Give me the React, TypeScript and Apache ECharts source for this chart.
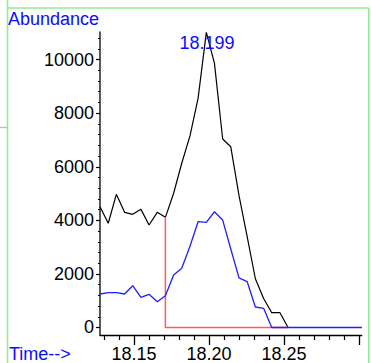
import React, { useEffect, useRef } from "react";
import * as echarts from "echarts";

// Retention times (min)
const times = [
  18.1273, 18.1328, 18.1382, 18.1437, 18.1491, 18.1546, 18.16, 18.1655, 18.1709, 18.1764,
  18.1818, 18.1873, 18.1927, 18.1982, 18.2036, 18.2091, 18.2145, 18.22, 18.2254, 18.2309,
  18.2364, 18.2418, 18.2473, 18.2527, 18.2582, 18.2636, 18.2691, 18.2745, 18.28, 18.2854,
  18.2909, 18.2963, 18.3018,
];
// Total ion abundance (black)
const totalAbundance = [
  4507, 3890, 4970, 4300, 4225, 4410, 3825, 4300, 4112, 5010,
  6130, 7150, 8550, 11015, 9870, 7035, 6745, 4920, 3400, 1820,
  1080, 552, 552, 0, 0, 0, 0, 0, 0, 0,
  0, 0, 0,
];
// Extracted ion abundance (blue)
const ionAbundance = [
  1250, 1300, 1300, 1250, 1560, 1127, 1240, 963, 1187, 1960,
  2210, 3030, 3950, 3925, 4320, 4010, 2930, 1850, 1715, 765,
  715, 0, 0, 0, 0, 0, 0, 0, 0, 0,
  0, 0, 0,
];
// Integration baseline (red)
const baselineTimes = [18.1709, 18.1709, 18.2527];
const baselineValues = [4112, 0, 0];

const yMajorTicks = [0, 2000, 4000, 6000, 8000, 10000];
const yMinorTicks = [
  400, 800, 1200, 1600, 2400, 2800, 3200, 3600, 4400, 4800, 5200, 5600,
  6400, 6800, 7200, 7600, 8400, 8800, 9200, 9600, 10400, 10800,
];
const xMajorTicks = [18.15, 18.2, 18.25, 18.3];
const xTickLabels = [18.15, 18.2, 18.25];
const xMinorTicks = [
  18.13, 18.14, 18.16, 18.17, 18.18, 18.19, 18.21, 18.22, 18.23, 18.24,
  18.26, 18.27, 18.28, 18.29,
];
const peakLabel = "18.199";
const yTitle = "Abundance";
const xTitle = "Time-->";

const FONT = '"Liberation Sans", Arial, sans-serif';
const BLUE = "#0d0dff";
const GREEN = "#8fef8f";

export default function App() {
  const ref = useRef<HTMLDivElement>(null);
  useEffect(() => {
    if (!ref.current) return;
    const chart = echarts.init(ref.current, undefined, { renderer: "svg" });
    const xMin = times[0];
    const xMax = times[times.length - 1];
    const yMin = -280;
    const yMax = 11030;
    const axisLine = { show: true, lineStyle: { color: "#000", width: 1.3 } };
    chart.setOption({
      animation: false,
      backgroundColor: "#fff",
      grid: { left: 100, right: 9.3, top: 32, bottom: 28, containLabel: false, outerBoundsMode: "none" },
      xAxis: [
        {
          type: "value",
          position: "bottom",
          min: xMin,
          max: xMax,
          axisLine: { ...axisLine, onZero: false },
          axisTick: { show: true, customValues: xMajorTicks, length: 10, lineStyle: { color: "#000", width: 1.3 } },
          axisLabel: {
            show: true,
            customValues: xTickLabels,
            formatter: (v: number) => v.toFixed(2),
            margin: 10,
            color: "#000",
            fontSize: 18,
            fontFamily: FONT,
          },
          splitLine: { show: false },
        },
        {
          type: "value",
          position: "bottom",
          min: xMin,
          max: xMax,
          axisLine: { show: false, onZero: false },
          axisTick: { show: true, customValues: xMinorTicks, length: 5, lineStyle: { color: "#000", width: 1.2 } },
          axisLabel: { show: false },
          splitLine: { show: false },
        },
      ],
      yAxis: [
        {
          type: "value",
          position: "left",
          min: yMin,
          max: yMax,
          axisLine: { ...axisLine, onZero: false, lineStyle: { color: "#222", width: 1.5 } },
          axisTick: { show: true, customValues: yMajorTicks, length: 4, lineStyle: { color: "#000", width: 1.2 } },
          axisLabel: {
            show: true,
            customValues: yMajorTicks,
            formatter: (v: number) => String(Math.round(v)),
            margin: 6,
            color: "#000",
            fontSize: 18,
            fontFamily: FONT,
          },
          splitLine: { show: false },
        },
        {
          type: "value",
          position: "left",
          min: yMin,
          max: yMax,
          axisLine: { show: false, onZero: false },
          axisTick: { show: true, customValues: yMinorTicks, length: 2, lineStyle: { color: "#000", width: 1 } },
          axisLabel: { show: false },
          splitLine: { show: false },
        },
      ],
      series: [
        {
          type: "line",
          xAxisIndex: 0,
          yAxisIndex: 0,
          data: times.map((t, i) => [t, totalAbundance[i]]),
          showSymbol: false,
          symbol: "none",
          lineStyle: { color: "#000", width: 1.2 },
          z: 2,
        },
        {
          type: "line",
          xAxisIndex: 0,
          yAxisIndex: 0,
          data: baselineTimes.map((t, i) => [t, baselineValues[i]]),
          showSymbol: false,
          symbol: "none",
          lineStyle: { color: "#ff5a5a", width: 1.5 },
          z: 3,
        },
        {
          type: "line",
          xAxisIndex: 0,
          yAxisIndex: 0,
          data: times.map((t, i) => [t, ionAbundance[i]]),
          showSymbol: false,
          symbol: "none",
          lineStyle: { color: "#1f1fff", width: 1.3 },
          z: 4,
        },
      ],
      graphic: [
        { type: "line", silent: true, shape: { x1: 7.5, y1: 0, x2: 7.5, y2: 363 }, style: { stroke: GREEN, lineWidth: 1.6 } },
        { type: "line", silent: true, shape: { x1: 7.5, y1: 8, x2: 368.8, y2: 8 }, style: { stroke: GREEN, lineWidth: 1.6 } },
        { type: "line", silent: true, shape: { x1: 368.8, y1: 8, x2: 368.8, y2: 363 }, style: { stroke: GREEN, lineWidth: 1.6 } },
        { type: "line", silent: true, shape: { x1: 0, y1: 127.5, x2: 7.5, y2: 127.5 }, style: { stroke: "#a8cca8", lineWidth: 1.4 } },
        {
          type: "text",
          x: 8,
          y: 18.5,
          style: { text: yTitle, fill: BLUE, font: `18px ${FONT}`, textAlign: "left", textVerticalAlign: "middle", align: "left", verticalAlign: "middle" },
        },
        {
          type: "text",
          x: 207,
          y: 42.5,
          z: 10,
          style: { text: peakLabel, fill: BLUE, font: `18px ${FONT}`, textAlign: "center", textVerticalAlign: "middle", align: "center", verticalAlign: "middle" },
        },
        {
          type: "text",
          x: 9,
          y: 354,
          style: { text: xTitle, fill: BLUE, font: `18px ${FONT}`, textAlign: "left", textVerticalAlign: "middle", align: "left", verticalAlign: "middle" },
        },
      ],
    });
    return () => chart.dispose();
  }, []);
  return (
    <div
      ref={ref}
      style={{ position: "fixed", left: 0, top: 0, width: 371, height: 363, background: "#fff" }}
    />
  );
}
